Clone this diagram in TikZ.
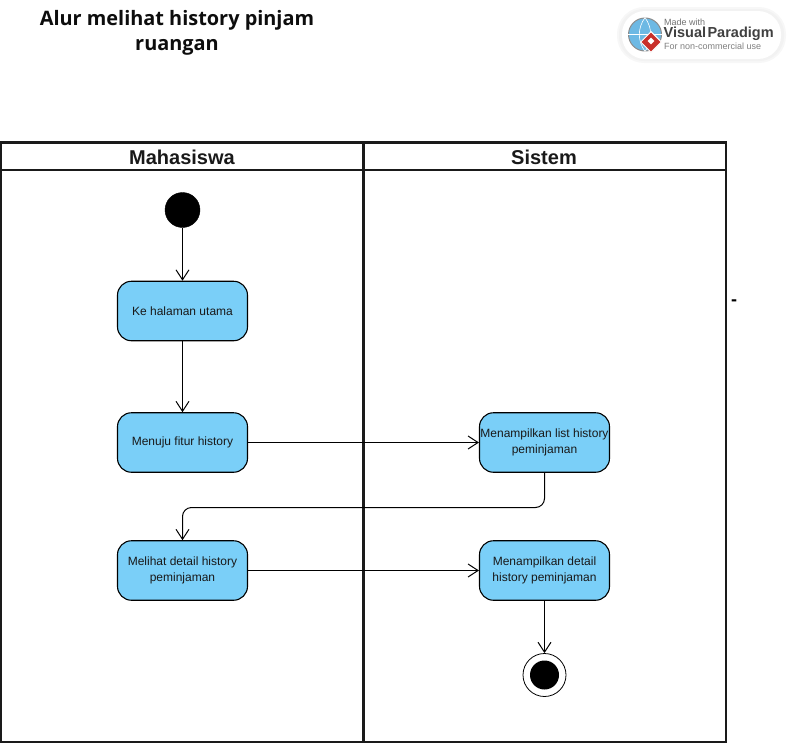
\documentclass[tikz,border=0pt]{standalone}
\usepackage{fontspec}
\setmainfont{Liberation Sans}
\newfontfamily\titlefont{Open Sans}
\usepackage{tikz}
\usetikzlibrary{
	arrows.meta,
	calc,
	positioning,
	shapes,
}
\definecolor{actfill}{HTML}{7ACFF8}
\definecolor{lanedark}{HTML}{1A1A1A}
\definecolor{vpred}{HTML}{C8302B}
\definecolor{vpblue}{HTML}{6DB9E4}
\tikzset{
	action node/.style={
		draw,
		rectangle,
		rounded corners=14pt,
		fill=actfill,
		line width=1.1pt,
		minimum width=130pt,
		minimum height=59.5pt,
		inner sep=0pt,
		align=center,
		font=\fontsize{12}{15.5}\selectfont,
		text=black!90,
	},
	lane node/.style={
		font=\fontsize{20}{24}\selectfont\bfseries,
		text=black!90,
		inner sep=0pt,
	},
	lane line/.style={lanedark, line width=2.6pt},
	flow/.style={
		draw,
		line width=1pt,
		-{Straight Barb[length=10pt,width=13pt,line width=1pt]},
	},
}

\begin{document}
\begin{tikzpicture}[x=1pt,y=-1pt]
\useasboundingbox (0,0) rectangle (790,744);

\node[font=\titlefont\fontsize{19.9}{25}\selectfont\bfseries, align=center, text=black!95, inner sep=0pt]
(judul) at (177,32.5) {Alur melihat history pinjam\\ruangan};

% lanes
\draw[lane line] (1,142.5) rectangle (726,742);
\draw[lane line] (1,170) -- (726,170);
\draw[lane line] (363.5,142.5) -- (363.5,742);
\node[lane node] (mhs) at (182,157) {Mahasiswa};
\node[lane node] (sis) at (544,157) {Sistem};

% start / end
\node[draw, circle, fill=black, inner sep=0pt, minimum size=35pt] (mulai) at (182.5,210) {};
\node[draw, circle, line width=.8pt, inner sep=0pt, minimum size=43pt] (selesai) at (544.5,675) {};
\node[circle, fill=black, inner sep=0pt, minimum size=29pt] (selesaiisi) at (544.5,675) {};

% actions
\node[action node] (utama) at (182.5,311) {Ke halaman utama};
\node[action node] (fitur) at (182.5,442.5) {Menuju fitur history};
\node[action node] (detail) at (182.5,570.5) {Melihat detail history\\peminjaman};
\node[action node] (list) at (544.5,442.5) {Menampilkan list history\\peminjaman};
\node[action node] (tampil) at (544.5,570.5) {Menampilkan detail\\history peminjaman};

\foreach \u \v in {
	mulai/utama,utama/fitur,fitur/list,detail/tampil,tampil/selesai%
}{
	\draw[flow] (\u) -- (\v);
}
\draw[flow, rounded corners=9pt] (list.south) |- (182.5,507.5) -- (detail.north);

\node[font=\fontsize{18}{18}\selectfont\bfseries, inner sep=0pt] (strip) at (734,302.5) {-};

% logo
\fill[black!3, rounded corners=27pt] (617,7) rectangle (786,63);
\fill[black!5, rounded corners=25pt] (619,9) rectangle (784,61);
\fill[white, rounded corners=23pt] (622,11) rectangle (781,59);
\node[circle, draw=black!45, fill=vpblue, line width=1pt, inner sep=0pt, minimum size=33pt] (globe) at (645,34.5) {};
\draw[white, line width=.6pt] (globe.north) to[bend left=35] (globe.south)
	(globe.north) to[bend right=35] (globe.south)
	(globe.west) -- (globe.east);
\node[diamond, fill=vpred, draw=white, line width=1pt, inner sep=0pt, minimum size=21pt] (ikon) at (651,42) {};
\node[diamond, fill=white, inner sep=0pt, minimum size=7pt] (ikonisi) at (651,41) {};
\node[anchor=west, inner sep=0pt, font=\fontsize{9}{10}\selectfont, text=black!55] (made) at (664,22) {Made with};
\node[anchor=west, inner sep=0pt, font=\fontsize{14.5}{16}\selectfont\bfseries, text=black!75] (vp) at (663.5,34) {Visual\kern-1pt\,Paradigm};
\node[anchor=west, inner sep=0pt, font=\fontsize{9}{10}\selectfont, text=black!50] (nc) at (664,46) {For non-commercial use};
\end{tikzpicture}
\end{document}
